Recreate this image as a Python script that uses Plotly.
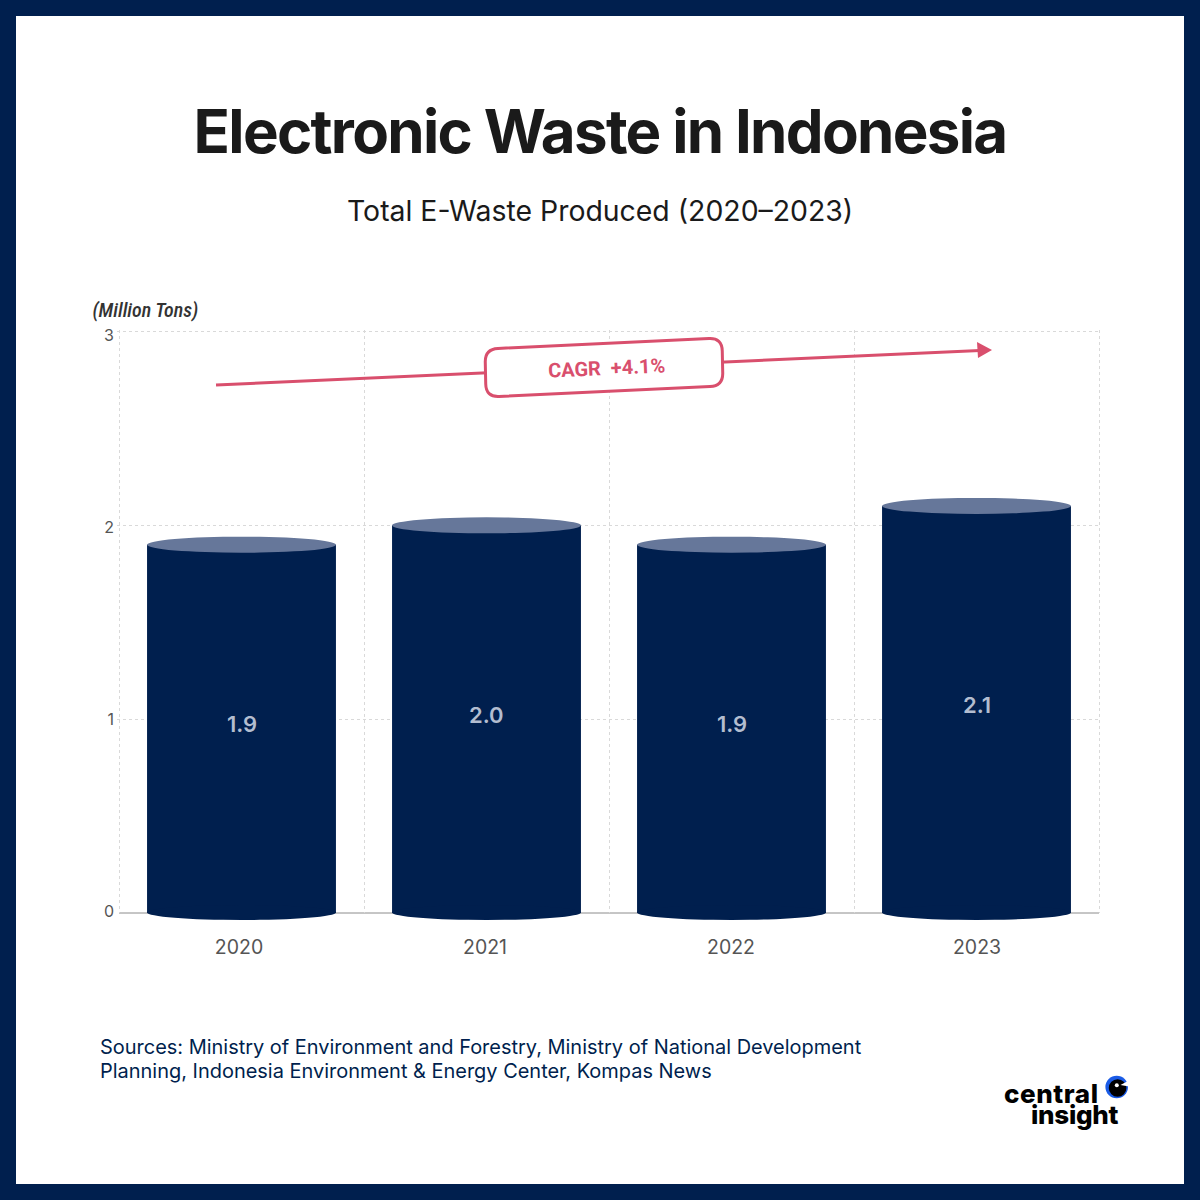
import plotly.graph_objects as go

years = ["2020", "2021", "2022", "2023"]
values = [1.9, 2.0, 1.9, 2.1]
y_ticks = [0, 1, 2, 3]

NAVY = "#001F4E"
CAP = "#66779A"
PINK = "#D94F6D"
GRID = "#D9D9D9"

# pixel frame of the value scale: 0 and 3 on y, the outer category boundaries on x
X0, X1, Y3, Y0 = 119, 1099, 331.5, 913
x_unit = (X1 - X0) / 4
y_unit = (Y0 - Y3) / 3
L, R, T, B = 117, 1101, 330, 913   # small overshoot so the edge gridlines are kept
X_EXTRA = (X0 - L) / x_unit
Y_EXTRA = (Y3 - T) / y_unit
px = lambda x: (x - L) / (R - L)
py = lambda y: (B - y) / (B - T)
BAR_W = 0.771
CAP_H = 16

shapes = [dict(type="rect", xref="paper", yref="paper", x0=px(16), x1=px(1184), y0=py(1184), y1=py(16),
               fillcolor="white", line_width=0, layer="below"),
          dict(type="line", xref="paper", yref="paper", x0=px(X0), x1=px(X1), y0=0, y1=0,
               line=dict(color="#8C8C8C", width=1), layer="below")]

for i, v in enumerate(values):
    shapes.append(dict(type="circle", xref="x", yref="paper", x0=i - BAR_W / 2, x1=i + BAR_W / 2,
                       y0=py(B + CAP_H / 2 - 1), y1=py(B - CAP_H / 2),
                       fillcolor=NAVY, line_width=0))
    shapes.append(dict(type="circle", xref="x", yref="y", x0=i - BAR_W / 2, x1=i + BAR_W / 2,
                       y0=v - CAP_H / 2 / y_unit, y1=v + CAP_H / 2 / y_unit,
                       fillcolor=CAP, line_width=0))

# trend arrow
shapes.append(dict(type="line", xref="paper", yref="paper", x0=px(216), y0=py(385), x1=px(980), y1=py(350.5),
                   line=dict(color=PINK, width=3)))
def P(x, y):
    return f"{px(x):.5f},{py(y):.5f}"
shapes.append(dict(type="path", xref="paper", yref="paper",
                   path=f"M{P(977,342)} L{P(992,350)} L{P(978,358)} Z", fillcolor=PINK, line_width=0))
# rotated rounded label box
c1, c2, c3, c4 = (485, 349), (722, 338), (723, 386), (486, 397)
r = 13
def toward(a, b, d):
    n = ((b[0]-a[0])**2 + (b[1]-a[1])**2) ** .5
    return (a[0] + (b[0]-a[0]) * d / n, a[1] + (b[1]-a[1]) * d / n)
corners = [c1, c2, c3, c4]
path = ""
for k in range(4):
    c, nxt, prv = corners[k], corners[(k+1) % 4], corners[k-1]
    s, e = toward(c, prv, r), toward(c, nxt, r)
    path += ("M" if k == 0 else "L") + P(*s) + " Q" + P(*c) + " " + P(*e) + " "
path += "Z"
shapes.append(dict(type="path", xref="paper", yref="paper", path=path, fillcolor="white",
                   line=dict(color=PINK, width=3)))

# logo eye
def circ(cx, cy, rad, color):
    return dict(type="circle", xref="paper", yref="paper", x0=px(cx-rad), x1=px(cx+rad),
                y0=py(cy+rad), y1=py(cy-rad), fillcolor=color, line_width=0)
shapes += [circ(1116.7, 1087, 11.3, "#1A5BE6"), circ(1117.6, 1088, 8.8, "#000000"),
           dict(type="path", xref="paper", yref="paper",
                path=f"M{P(1120.5,1085)} L{P(1129,1080.5)} L{P(1129,1086.5)} Z", fillcolor="#FFFFFF", line_width=0),
           circ(1116.8, 1085.3, 2, "#FFFFFF")]

fig = go.Figure()
fig.add_trace(go.Bar(x=years, y=values, width=BAR_W, marker=dict(color=NAVY, line_width=0), hoverinfo="x+y"))
# carries the tick labels of the overlaid label axes
fig.add_trace(go.Scatter(x=years, y=values, xaxis="x2", yaxis="y2", mode="none", hoverinfo="skip"))

def note(text, x, y, size, color, family="Inter", anchor="center", weight=400, style="normal", angle=0):
    return dict(text=text, xref="paper", yref="paper", x=px(x), y=py(y), xanchor=anchor, yanchor="middle",
                showarrow=False, textangle=angle,
                font=dict(family=family, size=size, color=color, weight=weight, style=style))

annotations = [
    note("Total E-Waste Produced (2020–2023)", 600, 210, 28.4, "#1A1A1A"),
    note("(Million Tons)", 83.5, 309.5, 20, "#333333", family="Roboto", anchor="left", weight=500, style="italic"),
    note("CAGR\u00a0\u00a0+4.1%", 606, 368, 20, PINK, family="Roboto", weight=700, angle=-2.6),
    note("Sources: Ministry of Environment and Forestry, Ministry of National Development", 98, 1047, 19.97, NAVY, anchor="left"),
    note("Planning, Indonesia Environment & Energy Center, Kompas News", 98, 1071, 19.97, NAVY, anchor="left"),
    note("central", 1004, 1093, 26, "#000000", anchor="left", weight=800),
    note("insight", 1121, 1114, 26, "#000000", anchor="right", weight=800),
]
for i, v in enumerate(values):
    annotations.append(dict(text=f"{v:.1f}", x=i, y=v / 2, xref="x", yref="y", yshift=4.5, showarrow=False,
                            font=dict(family="Inter", size=22, color="#B3BDD0", weight=600)))

# label axes: tick text sits a little off the gridlines, at 192 px per unit and 246 px per year
fig.update_layout(
    width=1200, height=1200, autosize=False,
    margin=dict(l=L, r=1200 - R, t=T, b=1200 - B, pad=0),
    paper_bgcolor=NAVY, plot_bgcolor="rgba(0,0,0,0)",
    showlegend=False,
    title=dict(text="Electronic Waste in Indonesia", x=0.5, xanchor="center", y=1 - 132 / 1200, yanchor="middle",
               xref="container", yref="container",
               font=dict(family="Inter", size=60, color="#1A1A1A", weight=700)),
    shapes=shapes, annotations=annotations,
    xaxis=dict(type="category", range=[-0.5 - X_EXTRA, 3.5 + X_EXTRA], tickson="boundaries", ticks="", showgrid=True,
               griddash="3px,3px", gridcolor=GRID, gridwidth=1, showline=False, showticklabels=False),
    yaxis=dict(range=[0, 3 + Y_EXTRA], tickvals=y_ticks, ticks="", showgrid=True, griddash="3px,3px", gridcolor=GRID,
               gridwidth=1, zeroline=False, showline=False, showticklabels=False),
    xaxis2=dict(type="category", overlaying="x", anchor="y2", side="bottom",
                range=[(L - 239) / 246, (R - 239) / 246], ticks="",
                showgrid=False, showline=False, ticklabelstandoff=20,
                tickfont=dict(family="Inter", size=19.5, color="#555555")),
    yaxis2=dict(overlaying="y", anchor="x", side="left", range=[(911 - B) / 192, (911 - T) / 192],
                tickvals=y_ticks, ticks="",
                showgrid=False, zeroline=False, showline=False, ticklabelstandoff=2,
                tickfont=dict(family="Inter", size=16, color="#555555")),
)
post = """
document.body.style.margin='0';
var tweak={'Electronic Waste in Indonesia':{letterSpacing:'-1.68px'},
 '(Million Tons)':{fontStretch:'75%'},
 'central':{letterSpacing:'0.6px'},
 'insight':{letterSpacing:'-0.3px'}};
document.querySelectorAll('svg text').forEach(function(t){
  var s=tweak[t.textContent]; if(s){Object.assign(t.style,s);}
});
"""
fig.write_html("out.html", post_script=post, config=dict(displayModeBar=False))
